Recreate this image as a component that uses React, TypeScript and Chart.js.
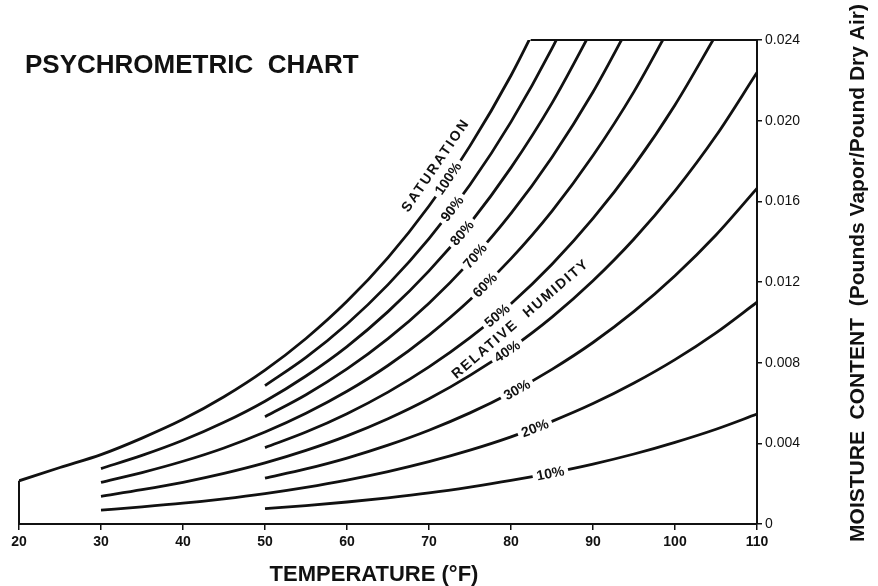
import React, { useEffect, useRef } from "react";
import { Chart, registerables } from "chart.js";

Chart.register(...registerables);

// Temperature grid (°F)
const TEMPS = [20, 25, 30, 35, 40, 45, 50, 55, 60, 65, 70, 75, 80, 85, 90, 95, 100, 105, 110];

// Moisture content (lb vapor / lb dry air) for each relative humidity curve
const RH100 = [0.00214, 0.0028, 0.00344, 0.00426, 0.00519, 0.00631, 0.00763, 0.0092, 0.01104, 0.01321, 0.01577, 0.01875, 0.02224, 0.0263, null, null, null, null, null];
const RH90 = [null, null, null, null, null, null, 0.00686, 0.00826, 0.00992, 0.01187, 0.01415, 0.01682, 0.01994, 0.02358, 0.02781, null, null, null, null];
const RH80 = [null, null, 0.00275, 0.0034, 0.00415, 0.00504, 0.00609, 0.00734, 0.0088, 0.01053, 0.01255, 0.01491, 0.01767, 0.02087, 0.0246, null, null, null, null];
const RH70 = [null, null, null, null, null, null, 0.00532, 0.00641, 0.00769, 0.00919, 0.01095, 0.01301, 0.0154, 0.01819, 0.02142, 0.02516, null, null, null];
const RH60 = [null, null, 0.00206, 0.00255, 0.00311, 0.00377, 0.00456, 0.00549, 0.00658, 0.00786, 0.00937, 0.01112, 0.01316, 0.01552, 0.01827, 0.02144, 0.02511, null, null];
const RH50 = [null, null, null, null, null, null, 0.00379, 0.00456, 0.00547, 0.00654, 0.00779, 0.00924, 0.01092, 0.01288, 0.01515, 0.01777, 0.02078, 0.02425, null];
const RH40 = [null, null, 0.00137, 0.0017, 0.00207, 0.00251, 0.00303, 0.00365, 0.00437, 0.00522, 0.00621, 0.00737, 0.00871, 0.01026, 0.01206, 0.01413, 0.01652, 0.01925, 0.02239];
const RH30 = [null, null, null, null, null, null, 0.00227, 0.00273, 0.00327, 0.00391, 0.00465, 0.00551, 0.00651, 0.00767, 0.009, 0.01054, 0.01231, 0.01433, 0.01664];
const RH20 = [null, null, 0.00069, 0.00085, 0.00103, 0.00125, 0.00151, 0.00182, 0.00218, 0.0026, 0.00309, 0.00366, 0.00432, 0.00509, 0.00597, 0.00699, 0.00815, 0.00948, 0.011];
const RH10 = [null, null, null, null, null, null, 0.00076, 0.00091, 0.00109, 0.0013, 0.00154, 0.00183, 0.00216, 0.00254, 0.00297, 0.00347, 0.00405, 0.0047, 0.00545];

const CURVES = [RH100, RH90, RH80, RH70, RH60, RH50, RH40, RH30, RH20, RH10];
const CURVE_LABELS = ["100%", "90%", "80%", "70%", "60%", "50%", "40%", "30%", "20%", "10%"];
const LABEL_TEMPS = [72.3, 72.8, 74.0, 75.6, 76.8, 78.3, 79.5, 80.7, 82.9, 84.8];

// Chart frame edges
const LEFT_EDGE_T = [20, 20];
const LEFT_EDGE_W = [0, 0.00214];
const TOP_EDGE_T = [82.4, 110];
const TOP_EDGE_W = [0.024, 0.024];

// Axis ranges / ticks
const X_MIN = 20;
const X_MAX = 110;
const X_STEP = 10;
const Y_MIN = 0;
const Y_MAX = 0.024;
const Y_STEP = 0.004;

const TITLE = "PSYCHROMETRIC  CHART";
const X_TITLE = "TEMPERATURE (\u00B0F)";
const Y_TITLE = "MOISTURE  CONTENT  (Pounds Vapor/Pound Dry Air)";
const SAT_TEXT = "SATURATION";
const RH_TEXT = "RELATIVE  HUMIDITY";

const FONT = "'Liberation Sans', Arial, Helvetica, sans-serif";
const INK = "#111";

function interp(vals: (number | null)[], t: number): number {
  const pts: [number, number][] = [];
  TEMPS.forEach((x, i) => {
    const v = vals[i];
    if (v !== null && v !== undefined) pts.push([x, v]);
  });
  for (let i = 0; i < pts.length - 1; i++) {
    if (t >= pts[i][0] && t <= pts[i + 1][0]) {
      const f = (t - pts[i][0]) / (pts[i + 1][0] - pts[i][0]);
      return pts[i][1] + f * (pts[i + 1][1] - pts[i][1]);
    }
  }
  return pts[pts.length - 1][1];
}

function toPoints(vals: (number | null)[]) {
  return TEMPS.map((t, i) => ({ x: t, y: vals[i] })).filter((p) => p.y !== null) as { x: number; y: number }[];
}

const labelPlugin = {
  id: "psychroLabels",
  afterDatasetsDraw(chart: any) {
    const ctx: CanvasRenderingContext2D = chart.ctx;
    const xs = chart.scales.x;
    const ys = chart.scales.y;
    const pt = (vals: (number | null)[], t: number) => [xs.getPixelForValue(t), ys.getPixelForValue(interp(vals, t))];
    const ang = (vals: (number | null)[], t: number) => {
      const a = pt(vals, t - 1);
      const b = pt(vals, t + 1);
      return Math.atan2(b[1] - a[1], b[0] - a[0]);
    };

    // inline curve labels with gap
    CURVES.forEach((vals, i) => {
      const t = LABEL_TEMPS[i];
      const [px, py] = pt(vals, t);
      const a = ang(vals, t);
      ctx.save();
      ctx.translate(px, py);
      ctx.rotate(a);
      ctx.font = `bold 14px ${FONT}`;
      const w = ctx.measureText(CURVE_LABELS[i]).width;
      ctx.fillStyle = "#fff";
      ctx.fillRect(-w / 2 - 4, -8, w + 8, 16);
      ctx.fillStyle = INK;
      ctx.textAlign = "center";
      ctx.textBaseline = "middle";
      ctx.fillText(CURVE_LABELS[i], 0, 1);
      ctx.restore();
    });

    // SATURATION beside the 100% curve
    {
      const t = LABEL_TEMPS[0];
      const [px, py] = pt(RH100, t);
      const a = ang(RH100, t);
      ctx.save();
      ctx.translate(px, py);
      ctx.rotate(a);
      ctx.font = `bold 14px ${FONT}`;
      (ctx as any).letterSpacing = "2px";
      ctx.fillStyle = INK;
      ctx.textAlign = "center";
      ctx.textBaseline = "middle";
      ctx.fillText(SAT_TEXT, 4, -17);
      ctx.restore();
    }

    // RELATIVE HUMIDITY between the 50% and 40% curves
    {
      const t = 81.1;
      const a1 = pt(RH50, t);
      const a2 = pt(RH40, t);
      const px = (a1[0] + a2[0]) / 2;
      const py = (a1[1] + a2[1]) / 2;
      const a = (ang(RH50, t) + ang(RH40, t)) / 2;
      ctx.save();
      ctx.translate(px, py);
      ctx.rotate(a);
      ctx.font = `bold 14px ${FONT}`;
      (ctx as any).letterSpacing = "1.8px";
      ctx.fillStyle = INK;
      ctx.textAlign = "center";
      ctx.textBaseline = "middle";
      ctx.fillText(RH_TEXT, 0, 1);
      ctx.restore();
    }
  },
  afterDraw(chart: any) {
    const ctx: CanvasRenderingContext2D = chart.ctx;
    ctx.save();
    ctx.fillStyle = INK;
    // main title
    ctx.font = `bold 26px ${FONT}`;
    ctx.textAlign = "left";
    ctx.textBaseline = "alphabetic";
    ctx.fillText(TITLE, 25, 73);
    // x title
    ctx.font = `bold 22px ${FONT}`;
    ctx.textAlign = "center";
    ctx.fillText(X_TITLE, 374, 581);
    // y title (reads bottom to top)
    ctx.translate(864, 273);
    ctx.rotate(-Math.PI / 2);
    ctx.font = `bold 21px ${FONT}`;
    ctx.textAlign = "center";
    ctx.fillText(Y_TITLE, 0, 0);
    ctx.restore();
  },
};

export default function App() {
  const ref = useRef<HTMLCanvasElement>(null);

  useEffect(() => {
    if (!ref.current) return;
    const curveSets = CURVES.map((vals, i) => ({
      label: CURVE_LABELS[i],
      data: toPoints(vals),
      borderColor: INK,
      borderWidth: 2.8,
      pointRadius: 0,
      fill: false,
      cubicInterpolationMode: "monotone" as const,
      tension: 0.4,
    }));
    const edge = (ts: number[], ws: number[]) => ({
      label: "edge",
      data: ts.map((t, i) => ({ x: t, y: ws[i] })),
      borderColor: INK,
      borderWidth: 2,
      pointRadius: 0,
      fill: false,
      tension: 0,
      clip: false as any,
    });

    const chart = new Chart(ref.current, {
      type: "line",
      data: {
        datasets: [...curveSets, edge(LEFT_EDGE_T, LEFT_EDGE_W), edge(TOP_EDGE_T, TOP_EDGE_W)] as any,
      },
      options: {
        responsive: false,
        animation: false,
        events: [],
        layout: { padding: { left: 19, right: 71, top: 40, bottom: 32 } },
        plugins: {
          legend: { display: false },
          tooltip: { enabled: false },
          title: { display: false },
        },
        scales: {
          x: {
            type: "linear",
            position: "bottom",
            min: X_MIN,
            max: X_MAX,
            ticks: {
              stepSize: X_STEP,
              color: INK,
              padding: 4,
              maxRotation: 0,
              font: { family: FONT, size: 14, weight: "bold" },
            },
            grid: { drawOnChartArea: false, drawTicks: true, tickLength: 6, color: INK, lineWidth: 1.5 },
            border: { display: true, color: INK, width: 2 },
            afterFit: (s: any) => {
              s.height = 30;
            },
          },
          y: {
            type: "linear",
            position: "right",
            min: Y_MIN,
            max: Y_MAX,
            ticks: {
              stepSize: Y_STEP,
              color: INK,
              padding: 3,
              font: { family: FONT, size: 14 },
              callback: (v: any) => (Number(v) === 0 ? "0" : Number(v).toFixed(3)),
            },
            grid: { drawOnChartArea: false, drawTicks: true, tickLength: 5, color: INK, lineWidth: 1.5 },
            border: { display: true, color: INK, width: 2 },
            afterFit: (s: any) => {
              s.width = 50;
            },
          },
        },
      } as any,
      plugins: [labelPlugin],
    });
    return () => chart.destroy();
  }, []);

  return (
    <div style={{ position: "fixed", left: 0, top: 0, width: 878, height: 586, background: "#fff" }}>
      <canvas ref={ref} width={878} height={586} style={{ display: "block", width: 878, height: 586 }} />
    </div>
  );
}
